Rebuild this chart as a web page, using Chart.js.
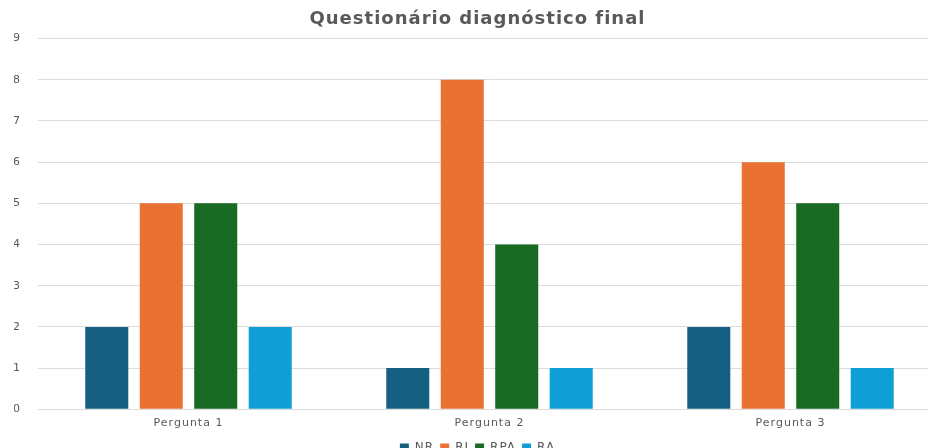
<!DOCTYPE html>
<html>
<head>
<meta charset="utf-8">
<script src="https://cdn.jsdelivr.net/npm/chart.js@4"></script>
<style>
  html, body { margin: 0; padding: 0; background: #fff; overflow: hidden; }
  #wrap { width: 944px; height: 464px; }
</style>
</head>
<body>
<div id="wrap"><canvas id="chart"></canvas></div>
<script>
// data
const categories = ['Pergunta 1', 'Pergunta 2', 'Pergunta 3'];
const nr  = [2, 1, 2];
const ri  = [5, 8, 6];
const rpa = [5, 4, 5];
const ra  = [2, 1, 1];
const seriesNames = ['NR', 'RI', 'RPA', 'RA'];
const colors = ['#156082', '#E97132', '#196B24', '#0F9ED5'];

const grey = '#595959';
const font = "'DejaVu Sans', sans-serif";

// wider tracking like the original font
const spacing = {
    id: 'spacing',
    beforeLayout(chart) { chart.ctx.letterSpacing = '1px'; },
    beforeDraw(chart) { chart.ctx.letterSpacing = '1px'; }
};

const chart = new Chart(document.getElementById('chart'), {
    type: 'bar',
    data: {
        labels: categories,
        datasets: [nr, ri, rpa, ra].map((d, i) => ({
            label: seriesNames[i],
            data: d,
            backgroundColor: colors[i],
            borderWidth: 0,
            categoryPercentage: 0.724,
            barPercentage: 0.79
        }))
    },
    plugins: [spacing],
    options: {
        responsive: true,
        maintainAspectRatio: false,
        animation: false,
        layout: { padding: { top: 9, right: 3, left: 14, bottom: 0 } },
        plugins: {
            title: {
                display: true,
                text: 'Questionário diagnóstico final',
                color: grey,
                font: { family: font, size: 18, weight: 'bold' },
                padding: { top: 0, bottom: 8 }
            },
            legend: {
                position: 'bottom',
                labels: {
                    boxWidth: 9,
                    boxHeight: 9,
                    color: grey,
                    font: { family: font, size: 12 },
                    padding: 6
                }
            },
            tooltip: { enabled: false }
        },
        scales: {
            x: {
                grid: { display: false, drawTicks: false },
                border: { display: false },
                ticks: { color: grey, font: { family: font, size: 11 }, padding: 6.75 }
            },
            y: {
                min: 0,
                max: 9,
                ticks: { stepSize: 1, color: grey, font: { family: font, size: 11 }, padding: 17 },
                grid: { color: '#dcdcdc', drawTicks: false },
                border: { display: false },
                afterFit(scale) { scale.width = 24; }
            }
        }
    }
});
</script>
</body>
</html>
